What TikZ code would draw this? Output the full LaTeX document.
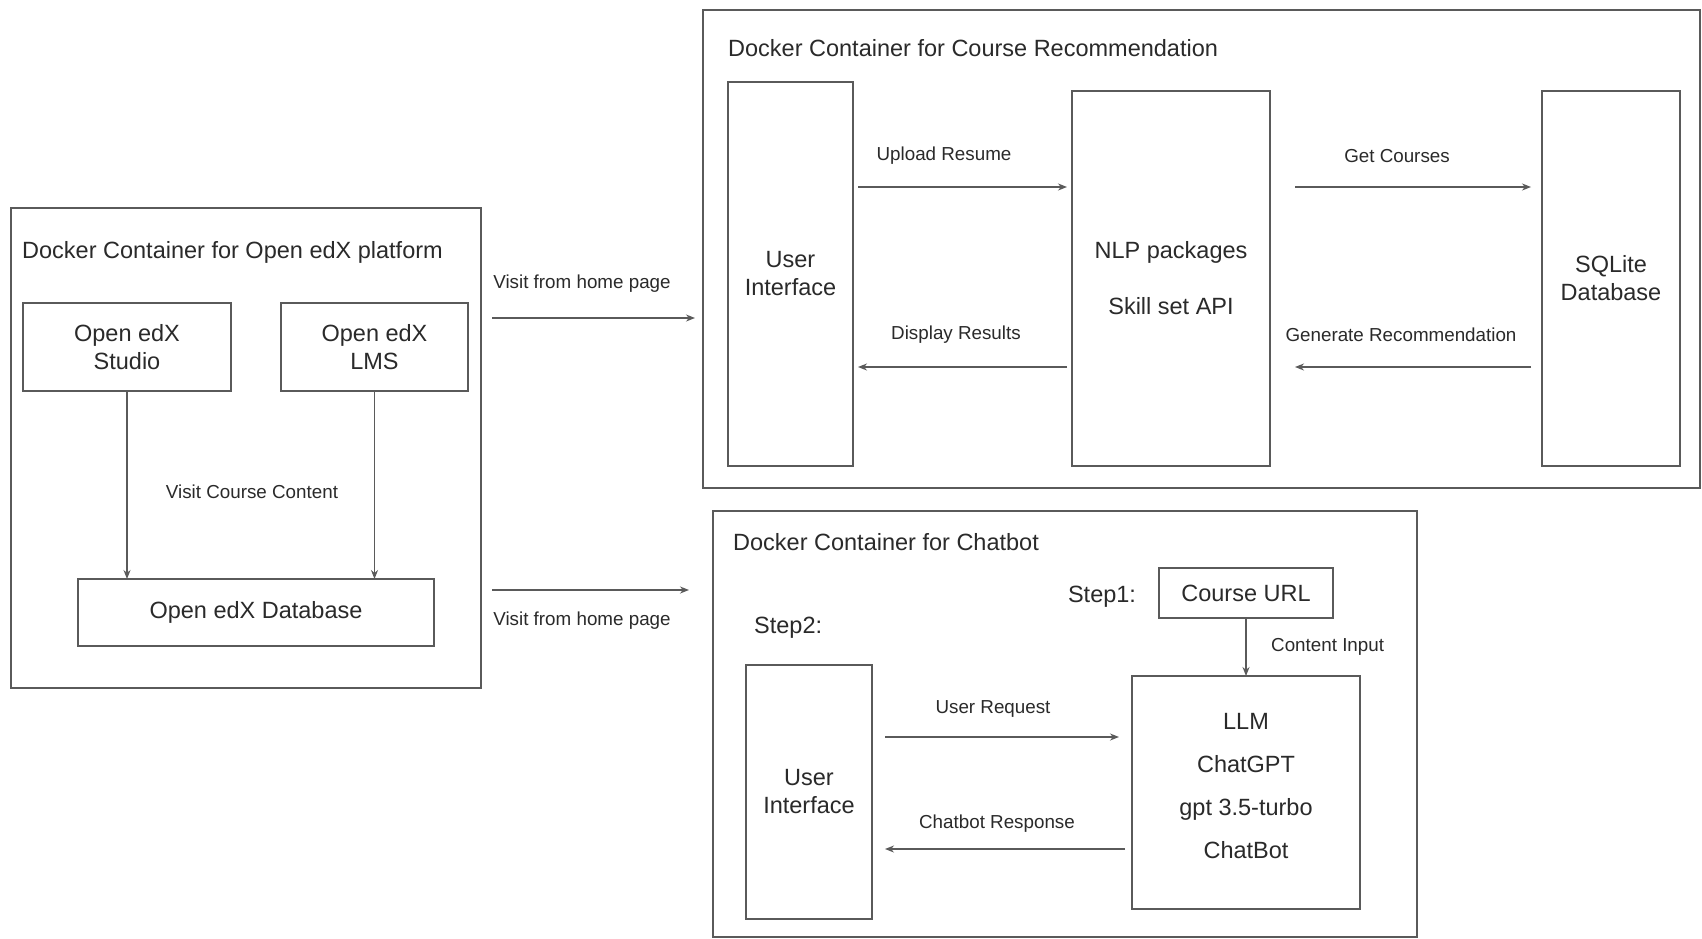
\documentclass[tikz,border=0pt]{standalone}
\usepackage{fontspec}
\setmainfont{Liberation Sans}
\usetikzlibrary{arrows.meta,calc}
\definecolor{linegray}{HTML}{5A5A5A}
\definecolor{textgray}{HTML}{2A2A2A}
\tikzset{
  container/.style={draw=linegray,line width=1.6pt},
  boxnode/.style={draw=linegray,line width=1.6pt,inner sep=0pt,outer sep=0pt,align=center,
    font=\fontsize{23.5}{28}\selectfont,text=textgray},
  plaintext/.style={inner sep=0pt,align=center,font=\fontsize{23.5}{28}\selectfont,text=textgray},
  titletext/.style={inner sep=0pt,anchor=west,font=\fontsize{23.5}{28}\selectfont,text=textgray},
  lbl/.style={inner sep=0pt,font=\fontsize{18.8}{22}\selectfont,text=textgray},
  arr/.style={draw=linegray,line width=1.4pt,-{Stealth[length=9pt,width=7pt]}}
}
\begin{document}
\begin{tikzpicture}[x=1pt,y=-1pt]
\useasboundingbox[fill=white] (0,0) rectangle (1702,939);

% containers
\node[container,inner sep=0pt,outer sep=0pt,minimum width=470pt,minimum height=480pt] (cleft) at (246,448) {};
\node[container,inner sep=0pt,outer sep=0pt,minimum width=997pt,minimum height=478pt] (ctop) at (1201.5,249) {};
\node[container,inner sep=0pt,outer sep=0pt,minimum width=704pt,minimum height=426pt] (cbot) at (1065,724) {};

% titles
\node[titletext] (tleft) at (22,252) {Docker Container for Open edX platform};
\node[titletext] (ttop) at (728,48) {Docker Container for Course Recommendation};
\node[titletext] (tbot) at (733,542) {Docker Container for Chatbot};

% left container
\node[boxnode,minimum width=208pt,minimum height=88pt] (studio) at (127,347) {Open edX\\Studio};
\node[boxnode,minimum width=187pt,minimum height=88pt] (lms) at (374.5,347) {Open edX\\LMS};
\node[boxnode,minimum width=356pt,minimum height=67pt] (db) at (256,612.5) {Open edX Database};
\draw[arr] (studio.south) -- (studio.south |- db.north);
\draw[arr] (lms.south) -- (lms.south |- db.north);
\node[lbl] (lvisit) at (252,492) {Visit Course Content};

% visit arrows
\coordinate (v1s) at (492,318);
\coordinate (v1e) at (695,318);
\coordinate (v2s) at (492,590);
\coordinate (v2e) at (689,590);
\draw[arr] (v1s) -- (v1e);
\draw[arr] (v2s) -- (v2e);
\node[lbl] (lv1) at (582,284) {Visit from home page};
\node[lbl] (lv2) at (582,621) {Visit from home page};

% top container
\node[boxnode,minimum width=125pt,minimum height=384pt] (ui1) at (790.5,274) {User\\Interface};
\node[boxnode,minimum width=198pt,minimum height=375pt] (nlp) at (1171,278.5) {NLP packages\\[28pt]Skill set API};
\node[boxnode,minimum width=138pt,minimum height=375pt] (sql) at (1611,278.5) {SQLite\\Database};
\draw[arr] ($(ui1.east |- 0,187)+(5,0)$) -- ($(nlp.west |- 0,187)+(-5,0)$);
\draw[arr] ($(nlp.west |- 0,367)+(-5,0)$) -- ($(ui1.east |- 0,367)+(5,0)$);
\draw[arr] ($(nlp.east |- 0,187)+(25,0)$) -- ($(sql.west |- 0,187)+(-11,0)$);
\draw[arr] ($(sql.west |- 0,367)+(-11,0)$) -- ($(nlp.east |- 0,367)+(25,0)$);
\node[lbl] (lup) at (944,156) {Upload Resume};
\node[lbl] (lget) at (1397,156) {Get Courses};
\node[lbl] (ldisp) at (956,335) {Display Results};
\node[lbl] (lgen) at (1401,335) {Generate Recommendation};

% bottom container
\node[boxnode,minimum width=174pt,minimum height=50pt] (url) at (1246,593) {Course URL};
\node[boxnode,minimum width=228pt,minimum height=233pt] (llm) at (1246,792.5) {};
\node[plaintext] (llmtext) at (1246,786) {LLM\\[15pt]ChatGPT\\[15pt]gpt 3.5-turbo\\[15pt]ChatBot};
\node[boxnode,minimum width=126pt,minimum height=254pt] (ui2) at (809,792) {User\\Interface};
\node[titletext,anchor=center] (step1) at (1102,597) {Step1:};
\node[titletext] (step2) at (754,628) {Step2:};
\draw[arr] (url.south) -- (llm.north);
\node[lbl,anchor=west] (lcontent) at (1271,647) {Content Input};
\draw[arr] ($(ui2.east |- 0,737)+(13,0)$) -- ($(llm.west |- 0,737)+(-13,0)$);
\draw[arr] ($(llm.west |- 0,849)+(-7,0)$) -- ($(ui2.east |- 0,849)+(13,0)$);
\node[lbl] (lreq) at (993,709) {User Request};
\node[lbl] (lresp) at (997,824) {Chatbot Response};
\end{tikzpicture}
\end{document}
